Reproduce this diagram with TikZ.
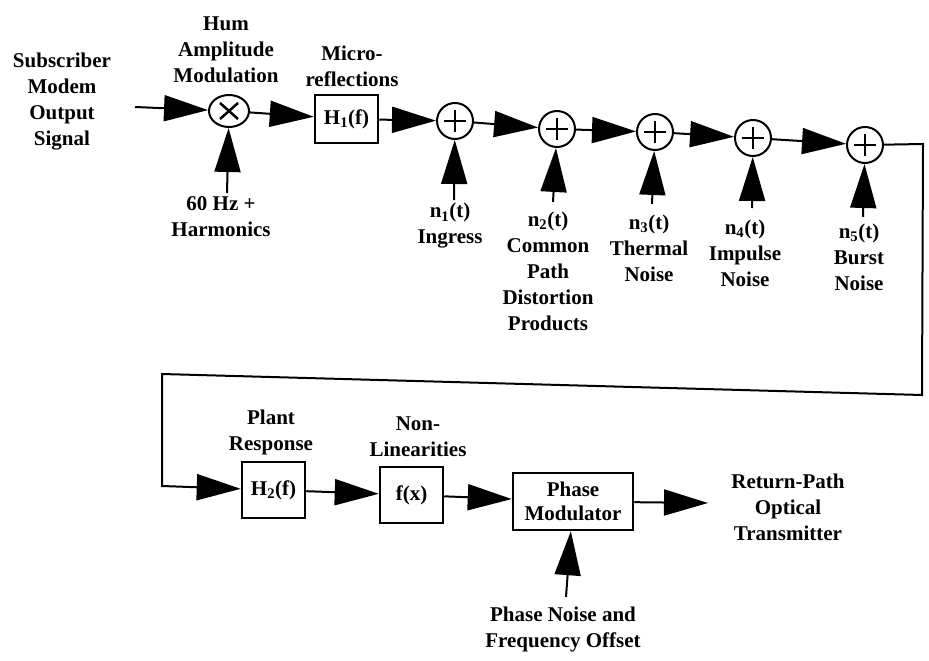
\documentclass[tikz,border=0pt]{standalone}
\usepackage{fontspec}
\setmainfont{Liberation Serif}
\usetikzlibrary{arrows.meta,shapes.geometric}
\begin{document}
\begin{tikzpicture}[x=1pt,y=-1pt,
  every node/.style={font=\bfseries\fontsize{21}{26}\selectfont},
  lbl/.style={align=center, inner sep=0pt},
  conn/.style={line width=2pt, -{Triangle[length=44pt,width=26pt]}},
  wire/.style={line width=2pt},
  block/.style={draw, line width=2.5pt, rectangle, inner sep=0pt, minimum width=63pt, minimum height=56pt},
  sum/.style={draw, line width=2pt, circle, minimum size=36pt, inner sep=0pt,
    path picture={\draw[line width=2.5pt]
      ([xshift=-11pt]path picture bounding box.center) -- ([xshift=11pt]path picture bounding box.center)
      ([yshift=-11pt]path picture bounding box.center) -- ([yshift=11pt]path picture bounding box.center);}},
  mult/.style={draw, line width=2pt, ellipse, minimum width=40pt, minimum height=32pt, inner sep=0pt,
    path picture={\draw[line width=2.5pt]
      ([shift={(-9pt,-8pt)}]path picture bounding box.center) -- ([shift={(9pt,8pt)}]path picture bounding box.center)
      ([shift={(-9pt,8pt)}]path picture bounding box.center) -- ([shift={(9pt,-8pt)}]path picture bounding box.center);}}
]
\useasboundingbox (0,0) rectangle (929,661);

% top row
\node[mult] (mx) at (229,111) {};
\node[block, minimum height=48pt] (h1) at (346.5,119) {H\textsubscript{1}(f)};
\node[sum] (s1) at (455,121) {};
\node[sum] (s2) at (557,129) {};
\node[sum] (s3) at (655,132) {};
\node[sum] (s4) at (753,138) {};
\node[sum] (s5) at (865,145) {};

% bottom row
\node[block] (h2) at (273.5,490) {H\textsubscript{2}(f)};
\node[block] (fx) at (411.5,495) {f(x)};
\node[block, minimum width=120pt, minimum height=57pt, align=center] (pm) at (573,501.5) {Phase\\[-2pt]Modulator};

% labels
\node[lbl] (lsub) at (62,102) {Subscriber\\Modem\\Output\\Signal};
\node[lbl] (lhum) at (226,50) {Hum\\Amplitude\\Modulation};
\node[lbl] (lmic) at (352,66) {Micro-\\reflections};
\node[lbl] (lharm) at (221,217) {60 Hz +\\Harmonics};
\node[lbl] (ling) at (450,226) {n\textsubscript{1}(t)\\Ingress};
\node[lbl] (lcom) at (548,271) {n\textsubscript{2}(t)\\Common\\Path\\Distortion\\Products};
\node[lbl] (lthe) at (649,248) {n\textsubscript{3}(t)\\Thermal\\Noise};
\node[lbl] (limp) at (745,253) {n\textsubscript{4}(t)\\Impulse\\Noise};
\node[lbl] (lbur) at (859,257) {n\textsubscript{5}(t)\\Burst\\Noise};
\node[lbl] (lpla) at (271,432) {Plant\\Response};
\node[lbl] (lnon) at (418,437) {Non-\\Linearities};
\node[lbl] (lout) at (788,507) {Return-Path\\Optical\\Transmitter};
\node[lbl] (lpn) at (563,629) {Phase Noise and\\Frequency Offset};

% free ends
\coordinate (in) at (135,107);
\coordinate (vmx) at (227,193);
\coordinate (vs1) at (454,200);
\coordinate (vs2) at (553,202);
\coordinate (vs3) at (652,204);
\coordinate (vs4) at (752,208);
\coordinate (vs5) at (863,217);
\coordinate (vpm) at (566,597);
\coordinate (r1) at (923,144);
\coordinate (r2) at (922,395);
\coordinate (l1) at (162,374);
\coordinate (l2) at (162,486);
\coordinate (out) at (708,503);

% connectors
\draw[conn] (in) -- (mx);
\draw[conn] (mx) -- (h1);
\draw[conn] (h1) -- (s1);
\draw[conn] (s1) -- (s2);
\draw[conn] (s2) -- (s3);
\draw[conn] (s3) -- (s4);
\draw[conn] (s4) -- (s5);
\draw[conn] (vmx) -- (mx);
\draw[conn] (vs1) -- (s1);
\draw[conn] (vs2) -- (s2);
\draw[conn] (vs3) -- (s3);
\draw[conn] (vs4) -- (s4);
\draw[conn] (vs5) -- (s5);
\draw[conn] (s5) -- (r1) -- (r2) -- (l1) -- (l2) -- (h2);
\draw[conn] (h2) -- (fx);
\draw[conn] (fx) -- (pm);
\draw[conn] (pm) -- (out);
\draw[conn] (vpm) -- (pm);
\end{tikzpicture}
\end{document}
